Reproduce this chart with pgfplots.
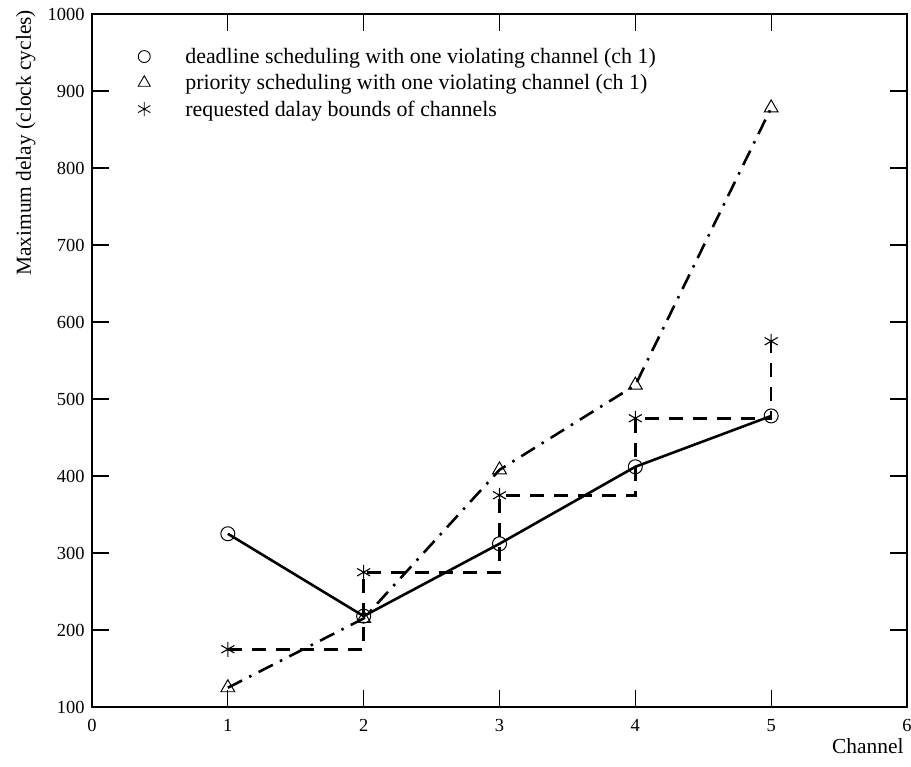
\documentclass[border=0pt]{standalone}
\usepackage{pgfplots}
\pgfplotsset{compat=1.18}
\usepackage{fontspec}
\setmainfont{Liberation Serif}
\begin{document}
\begin{tikzpicture}[font=\fontsize{21.5}{25}\selectfont]
\useasboundingbox (-92bp,-60bp) rectangle (819bp,707bp);
\begin{axis}[
  at={(0,0)}, anchor=south west,
  scale only axis,
  width=815bp, height=693bp,
  xmin=0, xmax=6, ymin=100, ymax=1000,
  xtick={0,1,2,3,4,5,6}, xticklabels={0,1,2,3,4,5,6},
  ytick={100,200,300,400,500,600,700,800,900,1000},
  yticklabels={100,200,300,400,500,600,700,800,900,1000},
  tick align=inside,
  major tick length=17bp,
  axis line style={line width=2.3pt},
  every tick/.style={black, line width=1.1pt},
  tick label style={font=\fontsize{18.5}{22}\selectfont},
  xticklabel style={yshift=-9bp},
  yticklabel style={xshift=-4bp},
  xlabel={Channel},
  ylabel={Maximum delay (clock cycles)},
  x label style={at={(axis description cs:1,0)}, anchor=base east, yshift=-46bp, font=\fontsize{21.5}{25}\selectfont},
  y label style={at={(axis description cs:-0.065,0.814)}, anchor=south, font=\fontsize{21.5}{25}\selectfont},
  legend style={draw=none, fill=none, at={(axis description cs:0,1)}, anchor=north west,
    xshift=46bp, yshift=-32bp, inner sep=0pt,
    font=\fontsize{22}{25}\selectfont, row sep=5.5bp,
    nodes={inner sep=2bp},
    /tikz/every odd column/.append style={column sep=33bp}},
  legend cell align=left,
]
\addlegendimage{only marks, mark=o, mark size=6bp, mark options={line width=0.9pt}}
\addlegendentry{deadline scheduling with one violating channel (ch 1)}
\addlegendimage{only marks, mark=triangle, mark size=7bp, mark options={line width=0.9pt}}
\addlegendentry{priority scheduling with one violating channel (ch 1)}
\addlegendimage{only marks, mark=asterisk, mark size=7bp, mark options={line width=0.9pt}}
\addlegendentry{requested dalay bounds of channels}

\addplot[forget plot, black, line width=2.6pt, mark=o, mark size=7bp, mark options={solid, fill=white, line width=1pt}]
  coordinates {(1,325) (2,218) (3,312) (4,412) (5,478)};
\addplot[forget plot, black, line width=2.6pt, dash pattern=on 16bp off 8bp on 2.5bp off 8bp, mark=triangle, mark size=8bp, mark options={solid, fill=white, line width=1pt}]
  coordinates {(1,125) (2,215) (3,408) (4,518) (5,878)};
\addplot[forget plot, black, line width=2.6pt, dash pattern=on 14bp off 10bp, const plot, mark=asterisk, mark size=7.5bp, mark options={solid, line width=1.1pt}]
  coordinates {(1,175) (2,275) (3,375) (4,475) (5,575)};
\end{axis}
\end{tikzpicture}
\end{document}
